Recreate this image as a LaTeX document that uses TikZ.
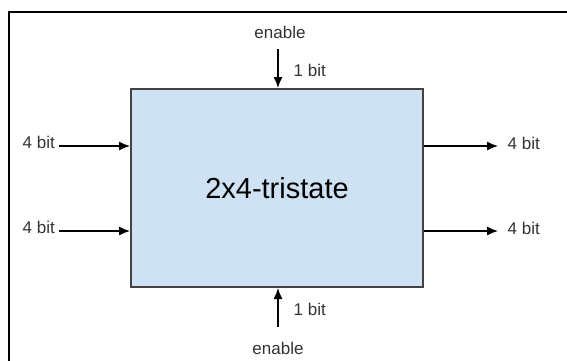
\documentclass[tikz,border=0pt]{standalone}
\usepackage{fontspec}
\setmainfont{Liberation Sans}
\usetikzlibrary{arrows.meta}
\definecolor{boxfill}{HTML}{CFE2F3}
\definecolor{boxline}{HTML}{434343}
\definecolor{txt}{HTML}{333333}
\tikzset{
	blk/.style={draw=boxline, line width=2pt, fill=boxfill, minimum width=292pt, minimum height=198pt, text=black, font=\fontsize{29}{32}\selectfont},
	lbl/.style={inner sep=0pt, text=txt, font=\fontsize{17}{19}\selectfont},
	sig/.style={line width=1.3pt, -{Latex[length=11pt,width=9pt]}},
}
\begin{document}
\begin{tikzpicture}[x=1pt, y=-1pt]
	\useasboundingbox (0,0) rectangle (567,360);
	\draw[line width=2pt] (9,361) -- (9,11.5) -- (568,11.5);
	\node[blk] (ts) at (277,188) {2x4-tristate};
	\node[lbl, anchor=base east] (i1) at (55,148) {4 bit};
	\node[lbl, anchor=base east] (i2) at (55,233) {4 bit};
	\draw[sig] ([xshift=4pt,yshift=2pt]i1.base east) -- ([yshift=2pt]i1.base -| ts.west);
	\draw[sig] ([xshift=4pt,yshift=2pt]i2.base east) -- ([yshift=2pt]i2.base -| ts.west);
	\coordinate (o1) at (423,146);
	\coordinate (o2) at (423,231);
	\draw[sig] (ts.east |- o1) -- ++(74,0) node[lbl, anchor=base west, xshift=9pt, yshift=-3pt] (ol1) {4 bit};
	\draw[sig] (ts.east |- o2) -- ++(74,0) node[lbl, anchor=base west, xshift=9pt, yshift=-3pt] (ol2) {4 bit};
	\node[lbl] (en1) at (280,32) {enable};
	\node[lbl] (en2) at (278,348) {enable};
	\coordinate (e1) at (278,49);
	\coordinate (e2) at (278,327);
	\draw[sig] (e1) -- (e1 |- ts.north) node[lbl, midway, anchor=west, xshift=15pt, yshift=-2pt] (b1) {1 bit};
	\draw[sig] (e2) -- (e2 |- ts.south) node[lbl, midway, anchor=west, xshift=15pt, yshift=-2pt] (b2) {1 bit};
\end{tikzpicture}
\end{document}
